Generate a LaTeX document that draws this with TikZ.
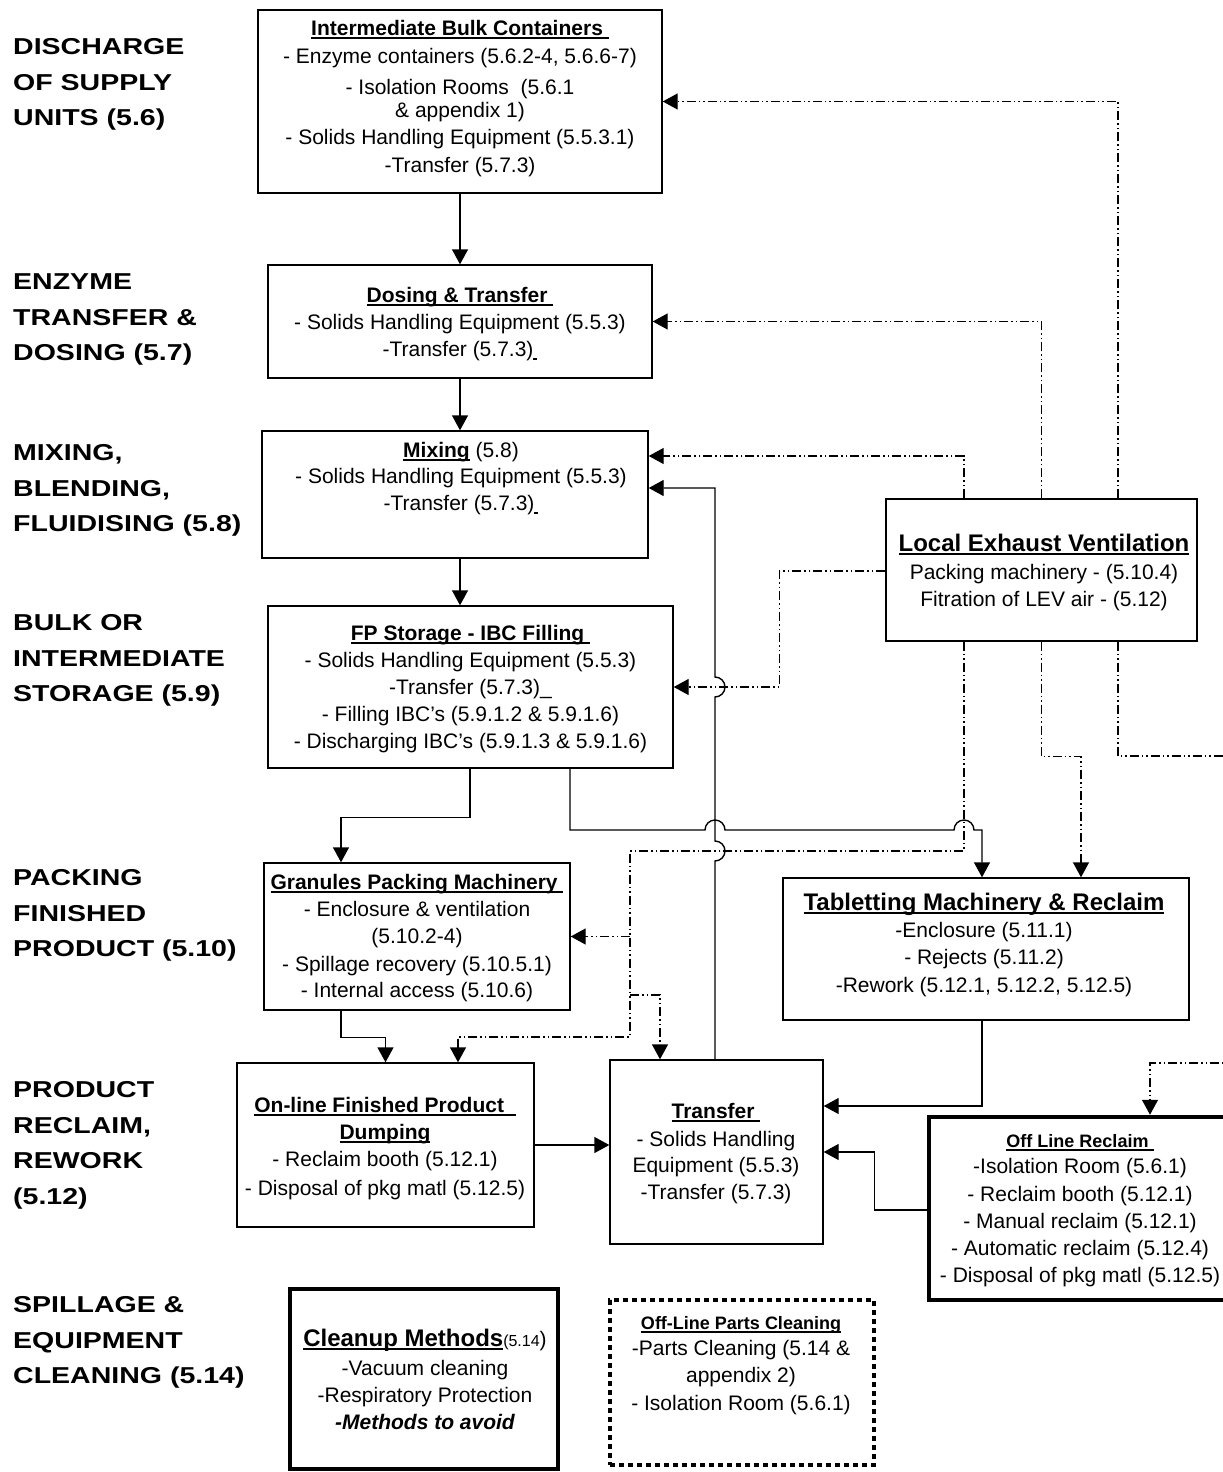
\documentclass[tikz,border=0pt]{standalone}
\usepackage{fontspec}
\setmainfont{Liberation Sans}
\newfontfamily\stagefont[FakeStretch=1.24]{Liberation Sans}
\usepackage{tikz}
\usetikzlibrary{arrows.meta}
\newsavebox{\ttlbox}
\newcommand{\ttl}[1]{\sbox{\ttlbox}{#1}\rlap{\rule[-3.5pt]{\wd\ttlbox}{1.8pt}}\usebox{\ttlbox}}
\newcommand{\bodyfont}{\fontsize{21}{27}\selectfont}
\newcommand{\headfont}{\bfseries\fontsize{21}{27}\selectfont}
\newcommand{\bigheadfont}{\bfseries\fontsize{24}{27}\selectfont}
\newcommand{\smallheadfont}{\bfseries\fontsize{18}{27}\selectfont}
\newcommand{\hopr}{10pt}
\tikzset{
    stage/.style={anchor=north west, align=left, inner sep=0pt,
        font=\stagefont\bfseries\fontsize{23}{35.5}\selectfont},
    box/.style={draw, line width=1.4pt, inner sep=0pt},
    heavybox/.style={draw, line width=4.5pt, inner sep=0pt},
    dotbox/.style={draw, line width=4.5pt, dash pattern=on 5pt off 4pt, inner sep=0pt},
    txt/.style={anchor=north, align=center, inner sep=0pt, font=\bodyfont},
    flow/.style={line width=1.4pt, -{Triangle[length=15pt,width=16pt]}},
    lev/.style={flow, dash pattern=on 9pt off 3pt on 1.5pt off 3pt on 1.5pt off 3pt}
}
\begin{document}
\begin{tikzpicture}[x=1pt, y=-1pt]
    \useasboundingbox (0,0) rectangle (1223,1472);
    \clip (0,0) rectangle (1223,1472);

    \node[stage] (st-discharge) at (13,38.5) {DISCHARGE\\OF SUPPLY\\UNITS (5.6)};
    \node[stage] (st-enzyme) at (13,273.5) {ENZYME\\TRANSFER \&\\DOSING (5.7)};
    \node[stage] (st-mixing) at (13,444.5) {MIXING,\\BLENDING,\\FLUIDISING (5.8)};
    \node[stage] (st-bulk) at (13,614.5) {BULK OR\\INTERMEDIATE\\STORAGE (5.9)};
    \node[stage] (st-packing) at (13,869.5) {PACKING\\FINISHED\\PRODUCT (5.10)};
    \node[stage] (st-reclaim) at (13,1081.5) {PRODUCT\\RECLAIM,\\REWORK\\(5.12)};
    \node[stage] (st-spillage) at (13,1296.5) {SPILLAGE \&\\EQUIPMENT\\CLEANING (5.14)};

    \node[box, minimum width=404pt, minimum height=183pt] (ibc) at (460,101.5) {};
    \node[txt] (ibc-txt) at (460,20) {{\headfont\ttl{Intermediate Bulk Containers\ }}\\[1pt]
        - Enzyme containers (5.6.2-4, 5.6.6-7)\\[4pt]
        - Isolation Rooms\ \ (5.6.1\\[-4pt]
        \& appendix 1)\\
        - Solids Handling Equipment (5.5.3.1)\\[1pt]
        -Transfer (5.7.3)};

    \node[box, minimum width=384pt, minimum height=113pt] (dos) at (460,321.5) {};
    \node[txt] (dos-txt) at (460,287) {{\headfont\ttl{Dosing \& Transfer\ }}\\
        - Solids Handling Equipment (5.5.3)\\
        -Transfer (5.7.3)\ttl{\hspace{4pt}}};

    \node[box, minimum width=386pt, minimum height=127pt] (mix) at (455,494.5) {};
    \node[txt] (mix-txt) at (461,442) {{\headfont\ttl{Mixing}} (5.8)\\[-1pt]
        - Solids Handling Equipment (5.5.3)\\
        -Transfer (5.7.3)\ttl{\hspace{4pt}}};

    \node[box, minimum width=405pt, minimum height=162pt] (fp) at (470.5,687) {};
    \node[txt] (fp-txt) at (470.5,625) {{\headfont\ttl{FP Storage - IBC Filling\ }}\\
        - Solids Handling Equipment (5.5.3)\\
        -Transfer (5.7.3)\_\\
        - Filling IBC's (5.9.1.2 \& 5.9.1.6)\\
        - Discharging IBC's (5.9.1.3 \& 5.9.1.6)};

    \node[box, minimum width=306pt, minimum height=147pt] (gran) at (417,936.5) {};
    \node[txt] (gran-txt) at (417,874) {{\headfont\ttl{Granules Packing Machinery\ }}\\
        - Enclosure \& ventilation\\
        (5.10.2-4)\\[1pt]
        - Spillage recovery (5.10.5.1)\\[-1pt]
        - Internal access (5.10.6)};

    \node[box, minimum width=406pt, minimum height=142pt] (tab) at (986,949) {};
    \node[txt] (tab-txt) at (984,893) {{\bigheadfont\ttl{Tabletting Machinery \& Reclaim}}\\
        -Enclosure (5.11.1)\\
        - Rejects (5.11.2)\\[1pt]
        -Rework (5.12.1, 5.12.2, 5.12.5)};

    \node[box, minimum width=311pt, minimum height=142pt] (lev) at (1041.5,570) {};
    \node[txt] (lev-txt) at (1044,534) {{\bigheadfont\ttl{Local Exhaust Ventilation}}\\[1pt]
        Packing machinery - (5.10.4)\\
        Fitration of LEV air - (5.12)};

    \node[box, minimum width=297pt, minimum height=164pt] (onl) at (385.5,1145) {};
    \node[txt] (onl-txt) at (385,1097) {{\headfont\ttl{On-line Finished Product\ \ }}\\
        {\headfont\ttl{Dumping}}\\
        - Reclaim booth (5.12.1)\\[2pt]
        - Disposal of pkg matl (5.12.5)};

    \node[box, minimum width=213pt, minimum height=184pt] (tr) at (716.5,1152) {};
    \node[txt] (tr-txt) at (716,1103) {{\headfont\ttl{Transfer\ }}\\[1pt]
        - Solids Handling\\[-1pt]
        Equipment (5.5.3)\\
        -Transfer (5.7.3)};

    \node[heavybox, minimum width=311pt, minimum height=183pt] (olr) at (1084.5,1208.5) {};
    \node[txt] (olr-txt) at (1080,1134.5) {{\smallheadfont\ttl{Off Line Reclaim\ }}\\[-1pt]
        -Isolation Room (5.6.1)\\[1pt]
        - Reclaim booth (5.12.1)\\
        - Manual reclaim (5.12.1)\\
        - Automatic reclaim (5.12.4)\\
        - Disposal of pkg matl (5.12.5)};

    \node[heavybox, minimum width=268pt, minimum height=180pt] (cln) at (424,1379) {};
    \node[txt] (cln-txt) at (425,1329) {{\bigheadfont\ttl{Cleanup Methods}}{\fontsize{16}{27}\selectfont(5.14})\\[2pt]
        -Vacuum cleaning\\
        -Respiratory Protection\\
        {\bfseries\itshape -Methods to avoid}};

    \node[dotbox, minimum width=264pt, minimum height=165pt] (plc) at (742,1382.5) {};
    \node[txt] (plc-txt) at (741,1316) {{\smallheadfont\ttl{Off-Line Parts Cleaning}}\\[-1pt]
        -Parts Cleaning (5.14 \&\\
        appendix 2)\\[1pt]
        - Isolation Room (5.6.1)};

    \coordinate (tap-gran) at (630,936.5);
    \coordinate (tap-tr) at (630,995);
    \coordinate (off-a) at (1240,756);
    \coordinate (off-b) at (1240,1063);

    \draw[flow] (ibc.south) -- (dos.north);
    \draw[flow] (dos.south) -- (dos.south |- mix.north);
    \draw[flow] (dos.south |- mix.south) -- (dos.south |- fp.north);
    \draw[flow] ([xshift=-0.5pt]fp.south) -- ++(0,49) -| ([xshift=-76pt]gran.north);
    \draw[flow] ([xshift=99.5pt]fp.south) |- (705,830)
        arc[start angle=180, end angle=0, radius=\hopr] -- (954,830)
        arc[start angle=180, end angle=0, radius=\hopr] -| ([xshift=-4pt]tab.north);
    \draw[flow] ([xshift=-76pt]gran.south) -- ++(0,27) -| (onl.north);
    \draw[flow] (onl.east) -- (onl.east -| tr.west);
    \draw[flow] ([xshift=-1.5pt]tr.north) -- (715,861)
        arc[start angle=-90, end angle=90, radius=\hopr] -- (715,697)
        arc[start angle=-90, end angle=90, radius=\hopr] |- ([yshift=6.5pt]mix.east);
    \draw[flow] ([xshift=-4pt]tab.south) |- ([yshift=46pt]tr.east);
    \draw[flow] ([yshift=-1.5pt]olr.west) -- ++(-52,0) |- (tr.east);

    \draw[lev] ([xshift=76.5pt]lev.north) |- (ibc.east);
    \draw[lev] (lev.north) |- (dos.east);
    \draw[lev] ([xshift=-77.5pt]lev.north) |- ([yshift=38.5pt]mix.east);
    \draw[lev] ([yshift=-1pt]lev.west) -- ++(-106,0) |- (fp.east);
    \draw[lev] ([xshift=-77.5pt]lev.south) |- (630,851) -- (630,1037) -| ([xshift=72.5pt]onl.north);
    \draw[lev] (tap-gran) -- (gran.east);
    \draw[lev] (tap-tr) -| ([xshift=-56.5pt]tr.north);
    \draw[lev] (lev.south) -- ++(0,115) -| ([xshift=95pt]tab.north);
    \draw[lev, -] ([xshift=76.5pt]lev.south) |- (off-a);
    \draw[lev] (off-b) -| ([xshift=65.5pt]olr.north);
\end{tikzpicture}
\end{document}
